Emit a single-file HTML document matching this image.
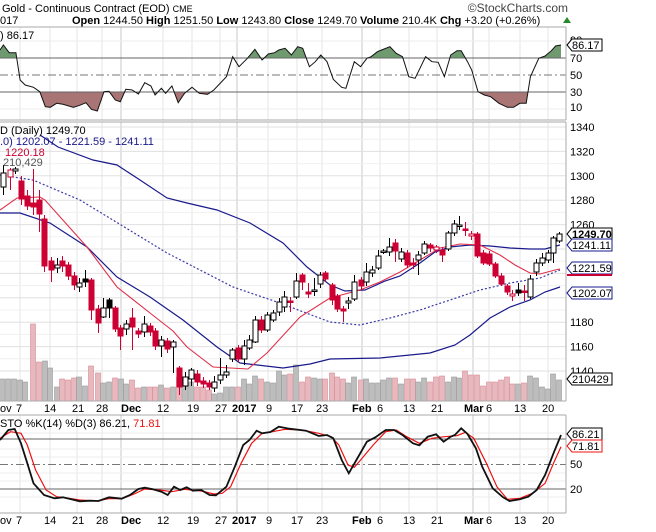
<!DOCTYPE html>
<html><head><meta charset="utf-8">
<style>
html,body{margin:0;padding:0;background:#fff;}
svg{display:block;font-family:"Liberation Sans",sans-serif;}
</style></head><body>
<svg id="s" width="656" height="532" xmlns="http://www.w3.org/2000/svg"></svg>
<script>
var S=document.getElementById('s');var out='';
function L(x1,y1,x2,y2,c,w,extra){out+='<line x1="'+x1+'" y1="'+y1+'" x2="'+x2+'" y2="'+y2+'" stroke="'+c+'" stroke-width="'+(w||1)+'" '+(extra||'')+'/>';}
function T(x,y,t,o){o=o||{};out+='<text x="'+x+'" y="'+y+'" font-size="'+(o.fs||11)+'" fill="'+(o.c||'#000')+'"'+(o.b?' font-weight="bold"':'')+(o.a?' text-anchor="'+o.a+'"':'')+'>'+t+'</text>';}
function P(pts,c,w,extra){out+='<polyline fill="none" points="'+pts.map(function(p){return p[0].toFixed(1)+','+p[1].toFixed(1)}).join(' ')+'" stroke="'+c+'" stroke-width="'+(w||1)+'" '+(extra||'')+'/>';}
var R=566;
var weeks=[20,50,77,102,163,192,220,268,297,322,380,409,437,489,520,548];
var months=[121,237,362,473];
var rt=27,rb=120;
function ry(v){return 58+(70-v)*0.85;}
weeks.forEach(function(x){L(x,rt,x,rb,'#e4e4e4');});
months.forEach(function(x){L(x,rt,x,rb,'#c8c8c8');});
[90,10].forEach(function(v){L(0,ry(v),R,ry(v),'#ececec');});
var rz=[[0,150],[8,135],[22,158],[38,158],[48,240],[60,255],[80,262],[95,275],[108,320],[120,322],[135,310],[150,313],[175,322],[190,316],[205,308],[218,328],[232,333],[248,275],[260,274],[275,300],[287,305],[300,268],[315,270],[330,282],[345,248],[360,258],[370,285],[385,265],[395,280],[410,258],[425,308],[440,280],[458,262],[475,280],[495,283],[510,270],[540,230],[555,170],[570,200],[590,175],[608,148],[625,180],[640,162],[655,158],[665,150],[680,145],[695,165],[710,140],[722,145],[738,200],[752,185],[765,165],[780,185],[795,238],[815,262],[825,265],[845,185],[860,200],[875,175],[885,170],[900,155],[910,150],[930,140],[945,160],[960,170],[975,230],[990,235],[1015,170],[1030,185],[1045,187],[1060,230],[1075,165],[1090,152],[1100,152],[1115,185],[1125,210],[1140,275],[1155,285],[1170,290],[1190,310],[1210,322],[1225,322],[1240,310],[1255,310],[1265,230],[1285,175],[1300,168],[1315,152],[1325,138],[1338,135]];
var rp=rz.map(function(p){return [p[0]/2.385,p[1]/3];});
var ptsStr=rp.map(function(p){return p[0].toFixed(1)+','+p[1].toFixed(1)}).join(' ');
var x0=rp[0][0],x1=rp[rp.length-1][0];
out+='<defs><clipPath id="ca"><rect x="0" y="0" width="'+R+'" height="58"/></clipPath><clipPath id="cb"><rect x="0" y="92" width="'+R+'" height="40"/></clipPath><clipPath id="cm"><rect x="0" y="122" width="'+R+'" height="279"/></clipPath></defs>';
out+='<polygon clip-path="url(#ca)" points="'+x0+',58 '+ptsStr+' '+x1+',58" fill="#6f9a6f"/>';
out+='<polygon clip-path="url(#cb)" points="'+x0+',92 '+ptsStr+' '+x1+',92" fill="#a87474"/>';
L(0,58,R,58,'#666');L(0,92,R,92,'#666');
L(0,75,R,75,'#777',1,'stroke-dasharray="8,3,2,3"');
P(rp,'#111',1);
L(0,rt,R,rt,'#aaa');L(R,rt,R,rb,'#aaa');L(0,rb,R,rb,'#aaa');
T(570,44,'90');T(570,62,'70');T(570,79,'50');T(570,96,'30');T(570,111,'10');
out+='<polygon points="567,45 572,39 602,39 602,51 572,51" fill="#fff" stroke="#000"/>';T(572,49,'86.17');
T(0,39,') 86.17');
var mt=122,mb=401;
function py(v){return 127+(1340-v)*1.22;}
weeks.forEach(function(x){L(x,mt,x,mb,'#e4e4e4');});
months.forEach(function(x){L(x,mt,x,mb,'#c8c8c8');});
for(var v=1140;v<=1340;v+=10){L(0,py(v),R,py(v),v%20==0?'#e0e0e0':'#f0f0f0');}
var vol=[[2,379],[8,379],[14,379],[20,380],[25,382],[33,324],[39,362],[45,361],[50,368],[57,387],[62,379],[68,380],[74,378],[79,377],[85,386],[91,366],[98,373],[103,383],[109,382],[115,378],[121,379],[126,384],[132,380],[138,388],[144,387],[150,387],[155,387],[161,385],[167,388],[173,387],[179,377],[185,381],[191,382],[197,387],[203,387],[209,390],[214,394],[220,393],[226,387],[232,387],[238,387],[244,379],[249,384],[255,376],[261,379],[267,382],[273,383],[279,371],[284,375],[290,374],[296,365],[302,382],[308,377],[314,378],[320,379],[325,379],[332,373],[337,377],[343,379],[348,383],[354,377],[361,380],[366,379],[372,383],[378,383],[383,380],[389,378],[395,378],[401,384],[407,379],[413,379],[418,382],[424,378],[430,382],[436,377],[442,376],[448,382],[454,377],[459,378],[465,371],[471,375],[477,375],[483,386],[489,382],[495,382],[501,380],[507,377],[512,384],[518,384],[524,383],[530,376],[536,378],[542,387],[548,389],[553,374],[559,380]];
var C=[[3,173,187,'w',165,195],[10,170,177,'h',168,190],[15,169,171,'w',167,174],[21,181,199,'r',176,205],[27,196,206,'r',190,210],[33,203,207,'r',169,215],[39,200,214,'r',190,232],[44,219,266,'r',215,272],[51,261,270,'r',257,282],[57,265,268,'w',258,273],[62,261,266,'r',256,272],[68,265,276,'r',262,280],[74,276,285,'r',272,290],[79,283,287,'w',278,292],[85,279,282,'b',270,287],[91,280,310,'r',278,320],[98,309,323,'r',305,333],[103,308,317,'w',298,318],[109,300,308,'b',298,318],[115,308,329,'r',306,332],[120,328,336,'r',325,350],[126,324,329,'w',320,335],[132,318,327,'r',308,350],[138,331,334,'r',328,338],[144,324,332,'w',316,337],[150,326,332,'r',323,336],[155,331,346,'r',328,350],[161,340,346,'w',336,357],[167,341,349,'r',338,353],[173,342,347,'w',340,373],[179,368,387,'r',366,395],[185,377,386,'w',372,390],[191,370,379,'w',368,386],[197,374,382,'r',370,386],[203,381,384,'r',377,388],[209,383,387,'r',380,390],[214,382,388,'w',376,392],[220,375,380,'w',358,384],[226,372,375,'w',365,378],[232,350,359,'w',348,362],[238,348,359,'r',345,362],[244,346,359,'w',340,365],[249,340,348,'w',335,350],[255,320,342,'w',316,343],[261,320,330,'r',316,333],[267,315,330,'w',312,332],[273,313,320,'w',310,322],[279,302,312,'w',298,316],[284,297,307,'w',291,312],[290,301,302,'r',297,312],[296,281,297,'w',273,299],[302,275,282,'r',273,290],[308,292,294,'r',283,298],[314,290,291,'w',278,296],[320,275,284,'w',272,288],[325,273,279,'r',271,282],[332,285,300,'r',283,305],[337,296,309,'r',294,312],[343,309,311,'r',306,322],[348,301,303,'w',297,309],[354,282,299,'w',275,301],[361,280,286,'r',277,290],[366,272,282,'w',263,286],[372,270,273,'w',266,277],[378,256,268,'w',250,270],[383,251,252,'w',249,254],[389,247,252,'w',238,256],[395,243,251,'r',239,262],[401,252,259,'w',248,262],[407,253,265,'r',250,268],[413,263,265,'r',258,269],[418,255,260,'w',251,275],[424,244,253,'w',241,255],[430,245,248,'r',243,252],[436,247,250,'h',245,253],[442,250,255,'r',247,262],[448,233,249,'w',231,251],[454,224,233,'w',220,236],[459,225,226,'w',216,230],[465,229,230,'r',222,236],[471,234,236,'h',231,240],[477,234,256,'r',232,258],[483,253,263,'r',250,265],[489,254,264,'r',251,266],[495,264,276,'r',262,278],[501,276,284,'r',273,286],[507,286,292,'r',284,295],[512,294,296,'h',290,301],[518,290,293,'b',283,296],[524,291,292,'r',285,301],[530,279,297,'w',275,299],[536,263,272,'w',259,276],[542,258,263,'w',253,266],[548,253,260,'w',250,263],[553,238,253,'w',236,263],[559,234,241,'w',232,243]];
var red={};C.forEach(function(c){red[c[0]]=(c[3]=='r'||c[3]=='h');});
vol.forEach(function(v){var r=red[v[0]];out+='<rect x="'+(v[0]-2.5)+'" y="'+v[1]+'" width="5" height="'+(401-v[1])+'" fill="'+(r?'#e8b8bf':'#bdbdbd')+'" stroke="'+(r?'#d88a95':'#9a9a9a')+'" stroke-width="0.6"/>';});
out+='<g clip-path="url(#cm)">';
P([[40,135],[58,147],[93,160],[117,165],[140,180],[167,198],[187,203],[217,210],[250,223],[283,243],[307,267],[330,285],[345,291],[365,290],[385,281],[400,276],[420,263],[435,252],[450,247],[470,245],[490,246],[510,248],[530,249],[545,249],[560,245]],'#1a1a8c',1.2);
P([[0,213],[20,213],[50,223],[87,247],[117,277],[150,297],[183,320],[217,347],[240,363],[283,368],[310,364],[330,359],[380,358],[400,356],[430,353],[455,345],[470,335],[490,318],[510,307],[530,300],[545,292],[560,287]],'#1a1a8c',1.2);
P([[0,175],[33,180],[80,200],[167,253],[233,287],[277,302],[330,322],[360,325],[390,318],[420,310],[450,300],[480,290],[510,283],[540,278],[560,270]],'#3a3aa8',1.2,'stroke-dasharray="2,2"');
P([[0,210],[17,198],[40,197],[45,200],[87,247],[117,287],[150,313],[173,331],[187,347],[213,367],[248,369],[267,353],[300,317],[330,298],[345,294],[360,290],[380,282],[400,272],[420,260],[440,248],[460,244],[480,245],[500,255],[515,265],[530,273],[540,274],[555,270],[560,269]],'#e0304a',1.1);
C.forEach(function(c){var x=c[0],col=(c[3]=='r'||c[3]=='h')?'#cc0033':'#000';
 L(x+0.5,c[4],x+0.5,c[5],col,1);
 var h=Math.max(c[2]-c[1],1.5);
 var fill=c[3]=='w'||c[3]=='h'?'#fff':col;
 out+='<rect x="'+(x-2)+'" y="'+c[1]+'" width="5" height="'+h+'" fill="'+fill+'" stroke="'+col+'" stroke-width="1"/>';});
out+='</g>';
L(0,mt,R,mt,'#aaa');L(R,mt,R,mb,'#aaa');L(0,mb,R,mb,'#aaa');
[1340,1320,1300,1280,1260,1180,1160,1140].forEach(function(v){T(570,py(v)+4,v);});
function box(y,t,c,b,bg){out+='<polygon points="567,'+y+' 572,'+(y-6)+' 612,'+(y-6)+' 612,'+(y+6)+' 572,'+(y+6)+'" fill="'+(bg||'#fff')+'" stroke="'+c+'"/>';T(572,y+4,t,{c:'#000',b:b});}
box(234,'1249.70','#000',true);box(245,'1241.11','#1a1a8c');box(268,'1221.59','#1a1a8c');L(567,275,612,275,'#cc0033',2);box(293,'1202.07','#1a1a8c');box(379,'210429','#000');
T(0,134,'D (Daily) 1249.70');T(0,145,'.0) 1202.07 - 1221.59 - 1241.11',{c:'#1a1a8c'});T(5,156,'1220.18',{c:'#cc0033'});T(3,166,'210,429',{c:'#555'});
function dates(y){var d=[[0,'ov'],[16,'7'],[44,'14'],[72,'21'],[96,'28'],[121,'Dec',1],[157,'12'],[187,'19'],[215,'27'],[232,'2017',1],[266,'9'],[291,'17'],[316,'23'],[352,'Feb',1],[377,'6'],[403,'13'],[431,'21'],[464,'Mar',1],[486,'6'],[514,'13'],[542,'20']];
d.forEach(function(a){T(a[0],y,a[1],{b:a[2]});});}
dates(412);
var st=415,sb=513;
function sy(v){return 505-v*0.8;}
weeks.forEach(function(x){L(x,st,x,sb,'#e4e4e4');});
months.forEach(function(x){L(x,st,x,sb,'#c8c8c8');});
[90,70,60,40,30,10].forEach(function(v){L(0,sy(v),R,sy(v),'#ececec');});
L(0,439,R,439,'#666');L(0,489,R,489,'#666');L(0,464.5,R,464.5,'#777',1,'stroke-dasharray="8,3,2,3"');
var kz=[[0,150],[20,120],[35,117],[50,160],[65,220],[80,280],[105,315],[130,325],[150,322],[170,328],[190,334],[215,332],[235,333],[260,322],[290,326],[310,315],[330,297],[345,293],[365,298],[385,305],[400,315],[415,290],[430,300],[445,292],[460,302],[480,300],[500,315],[515,316],[540,290],[560,230],[580,165],[595,150],[612,122],[625,130],[645,126],[665,110],[690,116],[730,122],[760,138],[780,135],[795,145],[815,210],[832,250],[850,210],[875,155],[895,142],[920,120],[940,120],[960,135],[985,160],[1000,166],[1020,140],[1040,133],[1058,155],[1075,140],[1085,135],[1100,115],[1115,132],[1135,175],[1150,230],[1175,295],[1200,322],[1215,333],[1240,328],[1260,320],[1280,300],[1300,255],[1320,190],[1338,135]];
var dz=[[0,145],[25,125],[50,130],[65,165],[85,240],[110,300],[135,320],[165,325],[190,330],[230,333],[260,326],[290,326],[320,312],[345,297],[380,300],[410,305],[440,298],[480,303],[510,312],[530,310],[550,290],[575,220],[600,160],[625,130],[650,125],[680,118],[720,120],[760,130],[790,140],[808,165],[830,225],[845,232],[860,210],[890,165],[920,125],[945,120],[970,140],[1000,160],[1030,145],[1060,140],[1090,137],[1110,127],[1130,145],[1160,220],[1185,290],[1210,328],[1240,325],[1270,310],[1300,280],[1320,220],[1338,170]];
function cv(a){return a.map(function(p){return [p[0]/2.385,390+p[1]/3];});}
P(cv(dz),'#ee1111',1.2);P(cv(kz),'#111',1.8);
L(0,st,R,st,'#aaa');L(R,st,R,sb,'#aaa');L(0,sb,R,sb,'#aaa');
T(570,468,'50');T(570,493,'20');
out+='<polygon points="567,434 572,428 602,428 602,440 572,440" fill="#fff" stroke="#000"/>';T(572,438,'86.21');
out+='<polygon points="567,446 572,440 602,440 602,452 572,452" fill="#fff" stroke="#ee1111"/>';T(572,450,'71.81');
out+='<text x="0" y="427" font-size="11">STO %K(14) %D(3) 86.21, <tspan fill="#ee1111">71.81</tspan></text>';
dates(524);
out+='<text x="2" y="12" font-size="11">Gold - Continuous Contract (EOD) <tspan font-size="9">CME</tspan></text>';
T(568,12,'©StockCharts.com',{a:'end',fs:12,c:'#444'});
T(0,24,'017');
out+='<text x="72" y="24" font-size="11"><tspan font-weight="bold">Open</tspan> 1244.50 <tspan font-weight="bold">High</tspan> 1251.50 <tspan font-weight="bold">Low</tspan> 1243.80 <tspan font-weight="bold">Close</tspan> 1249.70 <tspan font-weight="bold">Volume</tspan> 210.4K <tspan font-weight="bold">Chg</tspan> +3.20 (+0.26%)</text>';
out+='<polygon points="563,23 567,17 571,23" fill="#2a8a2a"/>';
S.innerHTML=out;
</script>
</body></html>
